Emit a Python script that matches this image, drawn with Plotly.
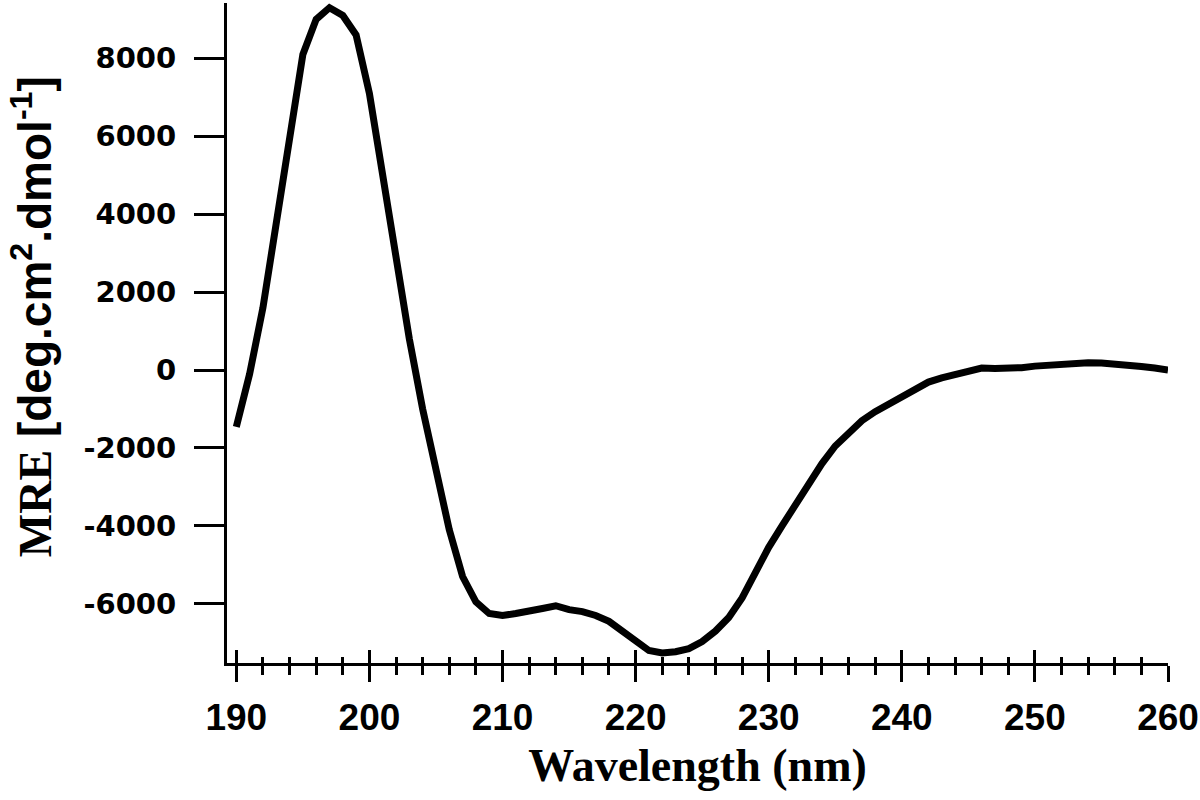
import plotly.graph_objects as go

# ---- data ----
wavelength_nm = [190, 191, 192, 193, 194, 195, 196, 197, 198, 199,
                 200, 201, 202, 203, 204, 205, 206, 207, 208, 209,
                 210, 211, 212, 213, 214, 215, 216, 217, 218, 219,
                 220, 221, 222, 223, 224, 225, 226, 227, 228, 229,
                 230, 231, 232, 233, 234, 235, 236, 237, 238, 239,
                 240, 241, 242, 243, 244, 245, 246, 247, 248, 249,
                 250, 251, 252, 253, 254, 255, 256, 257, 258, 259, 260]
mre = [-1460, -100, 1600, 3700, 6000, 8100, 9000, 9300, 9100, 8600,
       7100, 5000, 2900, 800, -1000, -2600, -4100, -5300, -5950, -6250,
       -6300, -6250, -6200, -6120, -6050, -6150, -6200, -6300, -6450, -6700,
       -7000, -7200, -7260, -7230, -7150, -6970, -6700, -6350, -5850, -5170,
       -4550, -4000, -3450, -2950, -2400, -1950, -1600, -1300, -1070, -870,
       -680, -480, -310, -200, -110, -30, 50, 40, 30, 60,
       100, 130, 160, 180, 185, 180, 160, 130, 90, 50, 0]

y_tickvals = [-6000, -4000, -2000, 0, 2000, 4000, 6000, 8000]
y_ticktext = [str(v) for v in y_tickvals]  # plain hyphen minus, as in the reference
x_tickvals = [190, 200, 210, 220, 230, 240, 250, 260]

x_title = "Wavelength (nm)"
y_title = ('<span style="font-family:\'Liberation Serif\'">MRE</span> '
           '[deg.cm<sup>2</sup>.dmol<sup>-1</sup>]')

x_range = [189.3, 260]
y_range = [-7520, 9420]

fig = go.Figure()
fig.add_trace(go.Scatter(x=wavelength_nm, y=mre, mode="lines",
                         line=dict(color="black", width=7),
                         showlegend=False, hoverinfo="skip"))
# invisible copy on overlaying axis (used only to draw the upward half of the ticks)
fig.add_trace(go.Scatter(x=wavelength_nm, y=mre, mode="lines", xaxis="x2",
                         line=dict(color="black", width=0), opacity=0,
                         showlegend=False, hoverinfo="skip"))

tick_font_x = dict(family="Liberation Sans", size=37, color="black", weight="bold")
tick_font_y = dict(family="DejaVu Sans", size=29, color="black", weight="bold")

fig.update_layout(
    width=1200, height=800,
    margin=dict(l=227, r=32, t=3, b=137, autoexpand=False),
    paper_bgcolor="white", plot_bgcolor="white",
    xaxis=dict(
        range=x_range, tickmode="array", tickvals=x_tickvals,
        ticks="outside", ticklen=16, tickwidth=3, tickcolor="black",
        minor=dict(dtick=2, tick0=190, ticks="outside", ticklen=9,
                   tickwidth=3, tickcolor="black", showgrid=False),
        showline=True, linecolor="black", linewidth=3,
        showgrid=False, zeroline=False,
        tickfont=tick_font_x, ticklabelstandoff=4,
        title=dict(text=x_title, standoff=12,
                   font=dict(family="Liberation Serif", size=46,
                             color="black", weight="bold")),
    ),
    xaxis2=dict(
        range=x_range, overlaying="x", anchor="y", side="bottom",
        tickmode="array", tickvals=x_tickvals,
        ticks="inside", ticklen=13, tickwidth=3, tickcolor="black",
        minor=dict(dtick=2, tick0=190, ticks="inside", ticklen=6,
                   tickwidth=3, tickcolor="black", showgrid=False),
        showticklabels=False, showline=False, showgrid=False, zeroline=False,
    ),
    yaxis=dict(
        range=y_range, tickmode="array", tickvals=y_tickvals, ticktext=y_ticktext,
        ticks="outside", ticklen=30, tickwidth=3, tickcolor="black",
        showline=True, linecolor="black", linewidth=3,
        showgrid=False, zeroline=False,
        tickfont=tick_font_y, ticklabelstandoff=12,
    ),
    annotations=[dict(
        text=y_title, xref="paper", yref="paper", x=0, y=0.524,
        xshift=-195, xanchor="center", yanchor="middle", textangle=-90,
        showarrow=False,
        font=dict(family="Liberation Sans", size=46, color="black", weight="bold"),
    )],
)

fig.write_html("out.html",
               config={"displayModeBar": False, "staticPlot": True},
               post_script="document.body.style.margin='0px';document.body.style.overflow='hidden';")
